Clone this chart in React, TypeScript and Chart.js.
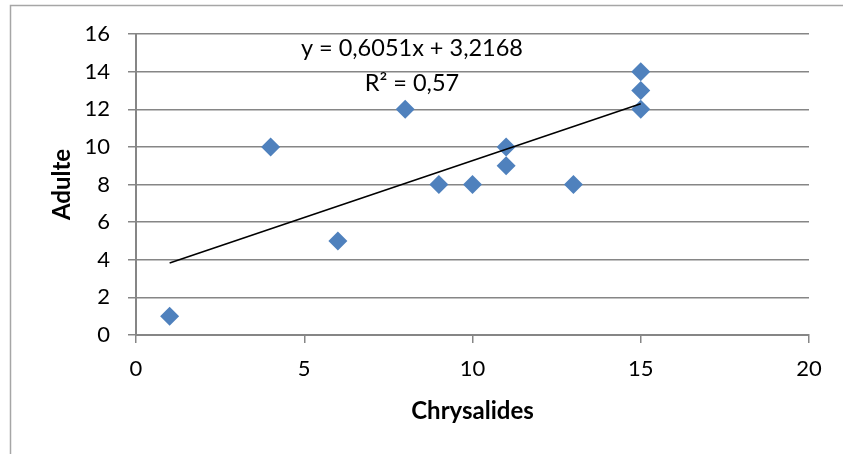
import React, { useEffect, useRef } from "react";
import { Chart, registerables } from "chart.js";

Chart.register(...registerables);

const chrysalides = [1, 4, 6, 8, 9, 10, 11, 11, 13, 15, 15, 15];
const adulte = [1, 10, 5, 12, 8, 8, 10, 9, 8, 14, 13, 12];
const trendSlope = 0.6051;
const trendIntercept = 3.2168;
const trendRange = [1, 15];
const equationText = "y = 0,6051x + 3,2168";
const r2Text = "R² = 0,57";
const equationAnchor = { x: 8.2, y1: 15.25, y2: 13.35 };
const xAxisTitle = "Chrysalides";
const yAxisTitle = "Adulte";

const FONT = "Lato, 'Open Sans', sans-serif";
const GRID = "#868686";

const extrasPlugin = {
  id: "extras",
  beforeDraw(chart: any) {
    const ctx = chart.ctx;
    ctx.save();
    ctx.fillStyle = "#ffffff";
    ctx.fillRect(0, 0, chart.width, chart.height);
    ctx.strokeStyle = "#a6a6a6";
    ctx.lineWidth = 1.5;
    ctx.strokeRect(10.5, 5.5, chart.width + 20, chart.height + 20);
    ctx.restore();
  },
  afterDatasetsDraw(chart: any) {
    const ctx = chart.ctx;
    const xs = chart.scales.x;
    const ys = chart.scales.y;
    ctx.save();
    ctx.fillStyle = "#000000";
    ctx.font = `23.5px ${FONT}`;
    ctx.textAlign = "center";
    ctx.textBaseline = "middle";
    const cx = xs.getPixelForValue(equationAnchor.x);
    ctx.fillText(equationText, cx, ys.getPixelForValue(equationAnchor.y1));
    ctx.fillText(r2Text, cx, ys.getPixelForValue(equationAnchor.y2));
    ctx.restore();
  },
};

export default function App() {
  const ref = useRef<HTMLCanvasElement | null>(null);
  useEffect(() => {
    if (!ref.current) return;
    const scatter = chrysalides.map((x, i) => ({ x, y: adulte[i] }));
    const trend = trendRange.map((x) => ({ x, y: trendSlope * x + trendIntercept }));
    const chart = new Chart(ref.current, {
      type: "scatter",
      data: {
        datasets: [
          {
            label: "Adulte",
            data: scatter,
            pointStyle: "rectRot",
            pointRadius: 9.5,
            pointHoverRadius: 9.5,
            backgroundColor: "#4F81BD",
            borderColor: "#4F81BD",
            borderWidth: 0,
            order: 2,
          },
          {
            label: "Trend",
            type: "line",
            data: trend,
            borderColor: "#000000",
            borderWidth: 1.6,
            pointRadius: 0,
            fill: false,
            showLine: true,
            order: 1,
          } as any,
        ],
      },
      options: {
        animation: false,
        responsive: false,
        maintainAspectRatio: false,
        devicePixelRatio: 1,
        layout: { padding: { left: 0, right: 34, top: 34, bottom: 0 } },
        plugins: {
          legend: { display: false },
          tooltip: { enabled: false },
        },
        scales: {
          x: {
            type: "linear",
            min: 0,
            max: 20,
            afterFit(scale: any) {
              scale.height = 119;
            },
            ticks: {
              stepSize: 5,
              padding: 13,
              color: "#000000",
              font: { family: FONT, size: 22 },
            },
            grid: {
              drawOnChartArea: false,
              drawTicks: true,
              tickLength: 8,
              color: GRID,
              lineWidth: 1.5,
            },
            border: { display: true, color: GRID, width: 2 },
            title: {
              display: true,
              text: xAxisTitle,
              color: "#000000",
              font: { family: FONT, size: 24, weight: "bold" },
              padding: { top: 0, bottom: 28.5 },
            },
          },
          y: {
            type: "linear",
            min: 0,
            max: 16,
            afterFit(scale: any) {
              scale.width = 136;
            },
            ticks: {
              stepSize: 2,
              padding: 18,
              color: "#000000",
              font: { family: FONT, size: 22 },
            },
            grid: {
              drawOnChartArea: true,
              drawTicks: true,
              tickLength: 8,
              color: GRID,
              lineWidth: 1.5,
            },
            border: { display: true, color: GRID, width: 2 },
            title: {
              display: true,
              text: yAxisTitle,
              color: "#000000",
              font: { family: FONT, size: 24, weight: "bold" },
              padding: { top: 47.5, bottom: 0 },
            },
          },
        },
      },
      plugins: [extrasPlugin],
    });
    return () => chart.destroy();
  }, []);
  return (
    <div style={{ position: "fixed", left: 0, top: 0, width: 843, height: 454 }}>
      <canvas ref={ref} width={843} height={454} style={{ width: 843, height: 454, display: "block" }} />
    </div>
  );
}
